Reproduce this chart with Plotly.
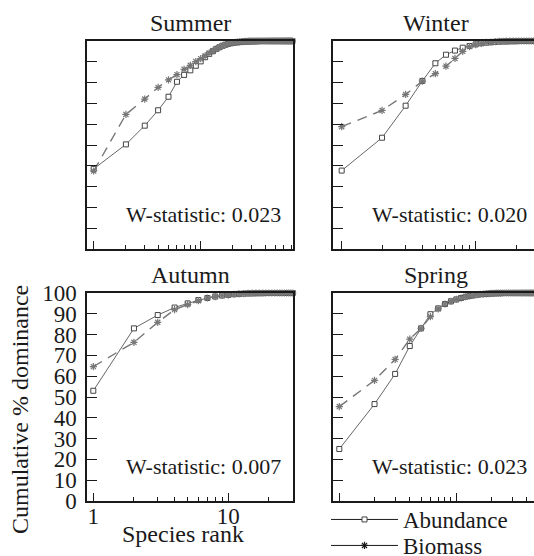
import plotly.graph_objects as go

# ---------------- data ----------------
seasons = ["Summer", "Winter", "Autumn", "Spring"]
w_stats = ["0.023", "0.020", "0.007", "0.023"]

abund_summer = [38.5, 50.3, 59.3, 66.7, 73.2, 80.4, 83.7, 85.9, 88.1, 90.2,
                92.2, 93.8, 95.1, 96.2, 97.0, 97.7, 98.2, 98.6, 98.9, 99.1,
                99.3, 99.4, 99.5, 99.6, 99.7, 99.7, 99.8, 99.8, 99.8, 99.9,
                99.9, 99.9, 99.9, 99.9, 100, 100, 100, 100, 100, 100,
                100, 100, 100, 100, 100, 100, 100, 100, 100, 100,
                100, 100, 100, 100, 100, 100, 100, 100, 100, 100,
                100, 100, 100, 100, 100, 100, 100, 100, 100, 100,
                100, 100]
biom_summer = [37.5, 64.7, 72.1, 77.7, 81.3, 83.8, 86.4, 88.3, 90.1, 91.5,
               92.9, 94.2, 95.3, 96.3, 97.1, 97.8, 98.3, 98.7, 99.0, 99.2,
               99.4, 99.5, 99.6, 99.7, 99.7, 99.8, 99.8, 99.9, 99.9, 99.9,
               99.9, 100, 100, 100, 100, 100, 100, 100, 100, 100,
               100, 100, 100, 100, 100, 100, 100, 100, 100, 100,
               100, 100, 100, 100, 100, 100, 100, 100, 100, 100,
               100, 100, 100, 100, 100, 100, 100, 100, 100, 100,
               100, 100]

abund_winter = [37.7, 53.5, 68.9, 80.8, 89.3, 93.4, 95.4, 96.8, 97.6, 98.4,
                98.9, 99.2, 99.4, 99.6, 99.7, 99.8, 99.8, 99.9, 99.9, 99.9,
                100, 100, 100, 100, 100, 100, 100, 100, 100, 100]
biom_winter = [58.8, 66.6, 74.3, 80.7, 84.3, 87.9, 91.6, 95.0, 97.3, 98.3,
               98.9, 99.3, 99.5, 99.7, 99.8, 99.8, 99.9, 99.9, 100, 100,
               100, 100, 100, 100, 100, 100, 100, 100, 100, 100]

abund_autumn = [53.0, 83.0, 89.4, 93.0, 95.0, 96.6, 97.6, 98.3, 98.8, 99.1,
                99.4, 99.6, 99.7, 99.8, 99.8, 99.9, 99.9, 99.9, 100, 100,
                100, 100, 100, 100, 100, 100, 100, 100, 100, 100]
biom_autumn = [64.6, 76.3, 85.9, 92.0, 94.4, 96.3, 97.6, 98.3, 98.8, 99.1,
               99.4, 99.6, 99.7, 99.8, 99.9, 99.9, 100, 100, 100, 100,
               100, 100, 100, 100, 100, 100, 100, 100, 100, 100]

abund_spring = [25.0, 46.6, 61.1, 74.5, 83.0, 89.8, 92.6, 94.7, 96.0, 96.9,
                97.6, 98.2, 98.6, 98.9, 99.2, 99.4, 99.5, 99.6, 99.7, 99.8,
                99.8, 99.9, 99.9, 99.9, 100, 100, 100, 100, 100, 100,
                100, 100, 100, 100, 100, 100, 100, 100, 100, 100,
                100, 100, 100, 100, 100, 100, 100, 100, 100, 100, 100]
biom_spring = [45.4, 58.0, 68.1, 77.8, 83.0, 88.6, 92.4, 94.7, 96.0, 96.9,
               97.6, 98.2, 98.6, 98.9, 99.2, 99.4, 99.5, 99.6, 99.7, 99.8,
               99.8, 99.9, 99.9, 99.9, 100, 100, 100, 100, 100, 100,
               100, 100, 100, 100, 100, 100, 100, 100, 100, 100,
               100, 100, 100, 100, 100, 100, 100, 100, 100, 100, 100]

y_ticks = [0, 10, 20, 30, 40, 50, 60, 70, 80, 90, 100]
x_major = [1, 10]
x_major_text = ["1", "10"]
x_minor = [2, 3, 4, 5, 6, 7, 8, 9, 20, 30, 40, 50, 60, 70]

# ---------------- layout helpers ----------------
W, H = 540, 556
FONT = "Liberation Serif, Times New Roman, serif"
INK = "#1a1a1a"


def dx(a, b):
    return [a / W, b / W]


def dy(top, bottom):
    return [1 - bottom / H, 1 - top / H]


panels = [
    dict(ab=abund_summer, bm=biom_summer, xd=dx(87, 293), yd=dy(41, 249),
         xr=[-0.0626, 1.8626]),
    dict(ab=abund_winter, bm=biom_winter, xd=dx(333.3, 539.3), yd=dy(41, 249),
         xr=[-0.0627, 1.4746]),
    dict(ab=abund_autumn, bm=biom_autumn, xd=dx(87, 293), yd=dy(293, 501),
         xr=[-0.0467, 1.479]),
    dict(ab=abund_spring, bm=biom_spring, xd=dx(333.3, 539.3), yd=dy(293, 501),
         xr=[-0.0513, 1.709]),
]

legend_style = dict(xanchor="left", yanchor="top", bgcolor="rgba(0,0,0,0)",
                    borderwidth=0, font=dict(size=23, family=FONT, color=INK),
                    tracegroupgap=0, itemwidth=67)

fig = go.Figure()
layout = dict(
    width=W, height=H,
    margin=dict(l=0, r=0, t=0, b=0, autoexpand=False),
    paper_bgcolor="white", plot_bgcolor="white",
    font=dict(family=FONT, color=INK, size=23),
    showlegend=True,
    legend=dict(x=326 / W, y=1 - 498 / H, **legend_style),
    legend2=dict(x=326 / W, y=1 - 524 / H, **legend_style),
)
annotations = []

for i, (p, name, ws) in enumerate(zip(panels, seasons, w_stats)):
    k = "" if i == 0 else str(i + 1)
    xa, ya = "x" + k, "y" + k
    show_labels = (i == 2)
    fig.add_trace(go.Scatter(
        x=list(range(1, len(p["ab"]) + 1)), y=p["ab"], xaxis=xa, yaxis=ya,
        mode="lines+markers",
        line=dict(color="#666", width=1),
        marker=dict(symbol="square", size=5, color="white",
                    line=dict(color="#444", width=1)),
        showlegend=False, cliponaxis=False, name="Abundance"))
    fig.add_trace(go.Scatter(
        x=list(range(1, len(p["bm"]) + 1)), y=p["bm"], xaxis=xa, yaxis=ya,
        mode="lines+markers",
        line=dict(color="#777", width=1.4, dash="10px,7px"),
        marker=dict(symbol="asterisk-open", size=6,
                    line=dict(color="#222", width=1.2)),
        showlegend=False, cliponaxis=False, name="Biomass"))

    layout["xaxis" + k] = dict(
        type="log", domain=p["xd"], range=p["xr"], anchor=ya,
        showline=True, mirror=True, linecolor=INK, linewidth=1.5,
        showgrid=False, zeroline=False,
        tickmode="array", tickvals=x_major, ticktext=x_major_text,
        ticks="inside", ticklen=8, tickwidth=1.2, tickcolor=INK,
        showticklabels=show_labels, tickfont=dict(size=23),
        ticklabelstandoff=-6,
        minor=dict(tickmode="array", tickvals=x_minor, ticks="inside",
                   ticklen=4, tickwidth=1, tickcolor=INK, showgrid=False),
    )
    layout["yaxis" + k] = dict(
        domain=p["yd"], range=[0, 100], anchor=xa,
        showline=True, mirror=True, linecolor=INK, linewidth=1.5,
        showgrid=False, zeroline=False,
        tickmode="array", tickvals=y_ticks,
        ticks="inside", ticklen=10, tickwidth=1.2, tickcolor=INK,
        showticklabels=show_labels, tickfont=dict(size=23),
        ticklabelstandoff=4,
    )
    annotations.append(dict(
        text=name, xref=xa + " domain", yref=ya + " domain", x=0.5, y=1,
        xanchor="center", yanchor="bottom", yshift=3, showarrow=False,
        font=dict(size=24, family=FONT, color=INK)))
    annotations.append(dict(
        text="W-statistic: " + ws, xref=xa + " domain", yref=ya,
        x=1, y=16.5, xanchor="right", yanchor="middle", xshift=-10,
        showarrow=False, font=dict(size=22, family=FONT, color=INK)))

# axis titles
annotations.append(dict(
    text="Cumulative % dominance", xref="paper", yref="paper",
    x=20 / W, y=1 - 410 / H, textangle=-90, xanchor="center", yanchor="middle",
    showarrow=False, font=dict(size=24, family=FONT, color=INK)))
annotations.append(dict(
    text="Species rank", xref="paper", yref="paper",
    x=183 / W, y=1 - 534 / H, xanchor="center", yanchor="middle",
    showarrow=False, font=dict(size=24, family=FONT, color=INK)))

# legend keys (solid lines, as in the reference legend)
fig.add_trace(go.Scatter(
    x=[None], y=[None], xaxis="x4", yaxis="y4", mode="lines+markers",
    line=dict(color=INK, width=1),
    marker=dict(symbol="square", size=5, color="white",
                line=dict(color="#444", width=1)),
    name="Abundance", showlegend=True, legend="legend"))
fig.add_trace(go.Scatter(
    x=[None], y=[None], xaxis="x4", yaxis="y4", mode="lines+markers",
    line=dict(color=INK, width=1),
    marker=dict(symbol="asterisk-open", size=6, line=dict(color=INK, width=1.2)),
    name="Biomass", showlegend=True, legend="legend2"))

layout["annotations"] = annotations
fig.update_layout(**layout)

fig.write_html("out.html",
               config={"displayModeBar": False},
               post_script="document.body.style.margin='0';"
                           "document.body.style.overflow='hidden';"
                           "document.documentElement.style.overflow='hidden';")
